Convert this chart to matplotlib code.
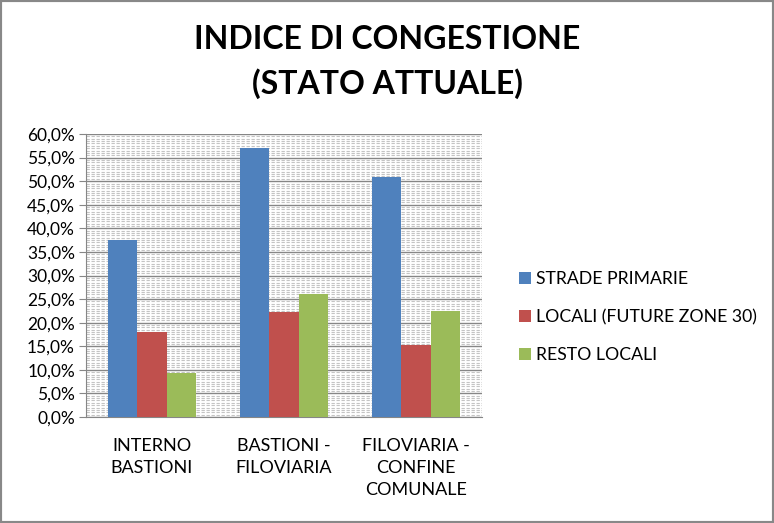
import numpy as np
import matplotlib
matplotlib.use("Agg")
import matplotlib.pyplot as plt
from matplotlib.ticker import MultipleLocator, FuncFormatter
from matplotlib.patches import Rectangle

# dati (percentuali)
categories = ["INTERNO\nBASTIONI", "BASTIONI -\nFILOVIARIA", "FILOVIARIA -\nCONFINE\nCOMUNALE"]
series_names = ["STRADE PRIMARIE", "LOCALI (FUTURE ZONE 30)", "RESTO LOCALI"]
strade_primarie = [37.5, 57.0, 50.9]
locali_zone30 = [18.0, 22.2, 15.2]
resto_locali = [9.3, 26.1, 22.4]
colors = ["#4F81BD", "#C0504D", "#9BBB59"]

plt.rcParams["font.family"] = ["Lato", "DejaVu Sans"]

fig = plt.figure(figsize=(7.74, 5.23), dpi=100)
ax = fig.add_axes([86 / 774, 1 - 417 / 523, 396 / 774, 283 / 523])

x = np.arange(len(categories))
w = 0.22
for i, (vals, name) in enumerate(zip([strade_primarie, locali_zone30, resto_locali], series_names)):
    ax.bar(x + (i - 1) * w, vals, width=w, color=colors[i], label=name, zorder=3)

ax.set_xlim(-0.5, 2.5)
ax.set_ylim(0, 60)
ax.yaxis.set_major_locator(MultipleLocator(5))
ax.yaxis.set_minor_locator(MultipleLocator(0.5))
ax.yaxis.set_major_formatter(FuncFormatter(lambda v, p: f"{v:.1f}%".replace(".", ",")))
ax.grid(axis="y", which="major", color="#868686", lw=1.0, zorder=1)
ax.grid(axis="y", which="minor", color="#c4c4c4", lw=0.8, ls=(0, (3, 1.5)), zorder=1)
ax.tick_params(axis="y", which="major", length=5, color="#868686", labelsize=12.5, pad=3)
ax.tick_params(axis="y", which="minor", length=0)
ax.set_xticks(x)
ax.set_xticklabels(categories, fontsize=13, linespacing=1.45)
ax.tick_params(axis="x", length=0, pad=15)
for s in ["top", "right"]:
    ax.spines[s].set_visible(False)
ax.spines["left"].set_color("#868686")
ax.spines["bottom"].set_color("#868686")

fig.text(0.5, 1 - 62 / 523, "INDICE DI CONGESTIONE\n(STATO ATTUALE)", ha="center", va="center",
         fontsize=23, fontweight="bold", linespacing=1.55)

fig.legend(loc="center left", bbox_to_anchor=(510 / 774, 1 - 317 / 523), frameon=False,
           fontsize=12.7, handlelength=0.7, handleheight=0.7, handletextpad=0.25,
           labelspacing=1.25, borderpad=0)

fig.patches.append(Rectangle((0, 0), 1, 1, transform=fig.transFigure, fill=False,
                             edgecolor="#888888", lw=3))

fig.savefig("out.png", dpi=100)
